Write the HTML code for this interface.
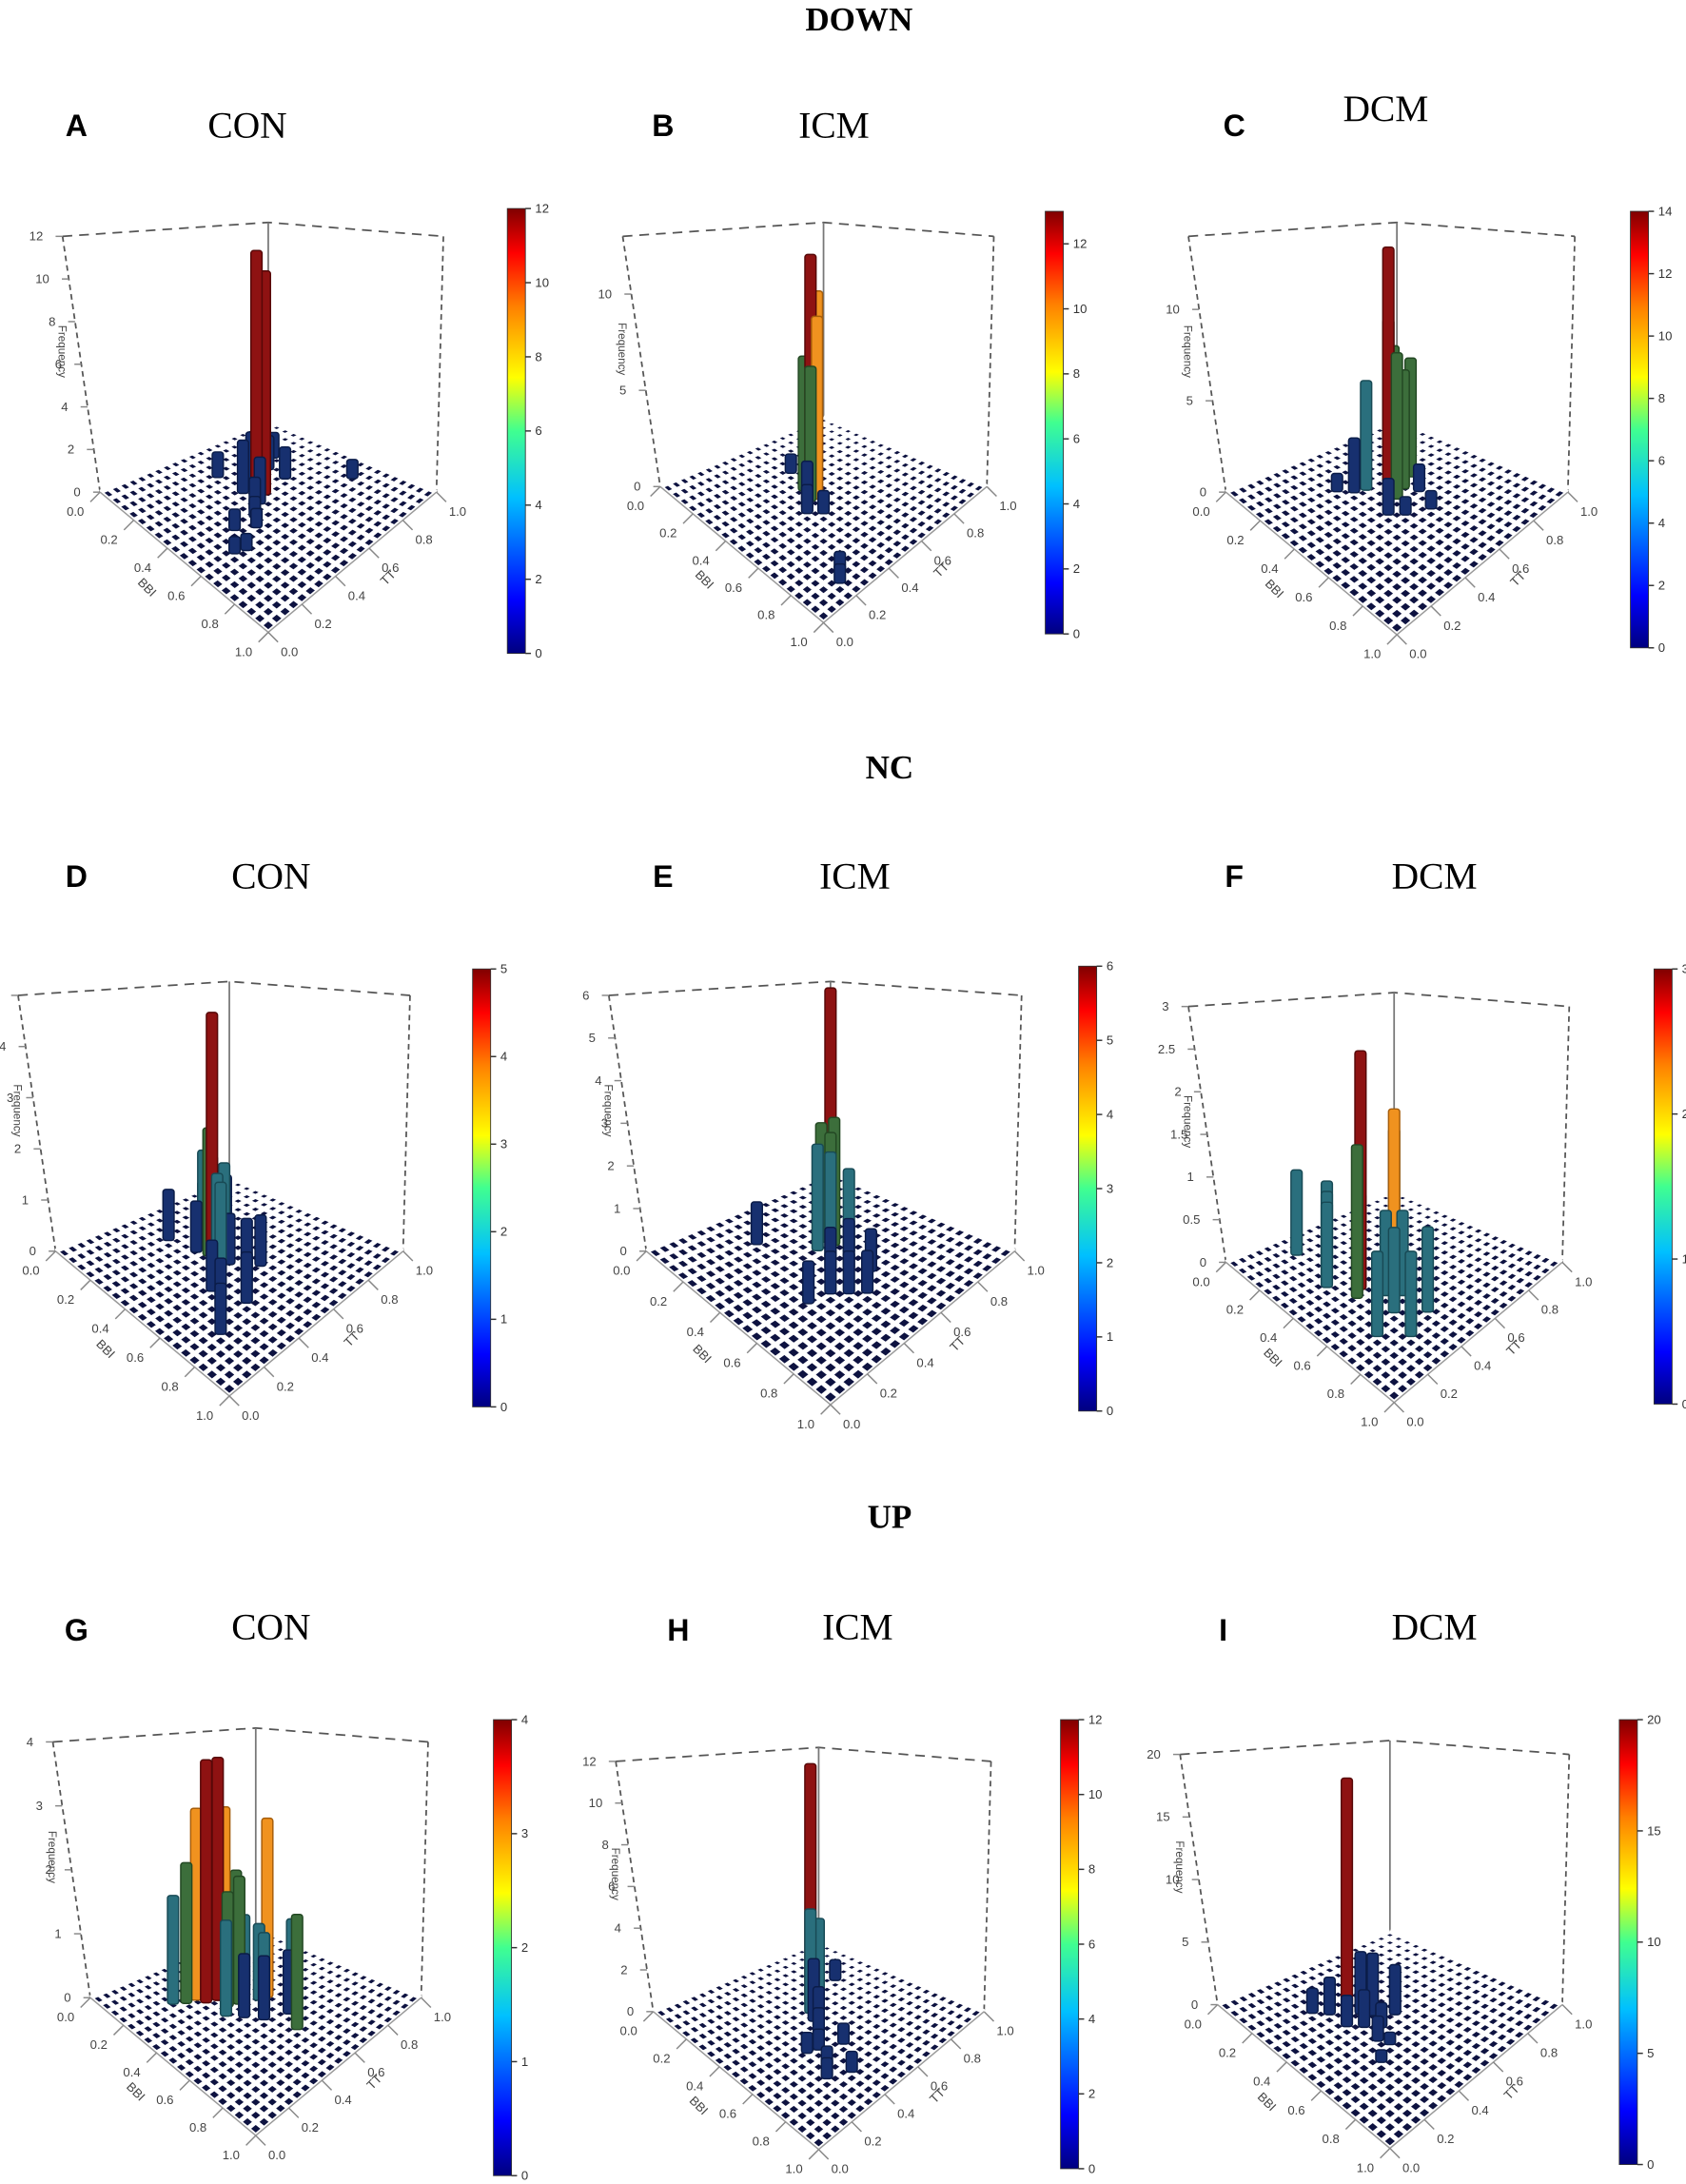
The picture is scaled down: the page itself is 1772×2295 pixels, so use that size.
<!DOCTYPE html>
<html><head><meta charset="utf-8">
<style>
html,body{margin:0;padding:0;background:#fff;}
svg{display:block;}
</style></head>
<body>
<svg id="fig" xmlns="http://www.w3.org/2000/svg" width="1772" height="2295" viewBox="0 0 1213 1571">
<defs>
<linearGradient id="jet" x1="0" y1="1" x2="0" y2="0">
<stop offset="0" stop-color="#00007f"/><stop offset="0.12" stop-color="#0000ff"/>
<stop offset="0.35" stop-color="#00c0ff"/><stop offset="0.5" stop-color="#40ff90"/>
<stop offset="0.62" stop-color="#ffff00"/><stop offset="0.78" stop-color="#ff8000"/>
<stop offset="0.9" stop-color="#ff0000"/><stop offset="1" stop-color="#800000"/>
</linearGradient>
</defs>
<g font-family="Liberation Serif, serif" font-weight="bold" font-size="24" fill="#000" text-anchor="middle">
<text x="618" y="22">DOWN</text>
<text x="640" y="560">NC</text>
<text x="640" y="1099">UP</text>
</g>
<g id="panels"></g>
</svg>
<script>
// ---- data (BBI position, TT position, frequency) per panel ----
const A_bbi=[0.41,0.42,0.36,0.45,0.47,0.50,0.20,0.30,0.25,0.50,0.60,0.62,0.62,0.35,0.30,0.55,0.40];
const A_tt =[0.52,0.56,0.62,0.50,0.45,0.42,0.50,0.70,0.78,0.30,0.20,0.25,0.88,0.50,0.60,0.38,0.70];
const A_val=[11.6,10.5,6.0,2.2,1.6,1.0,1.2,1.6,1.2,1.0,0.8,0.8,0.9,2.5,2.2,0.9,1.5];
const B_bbi=[0.42,0.43,0.46,0.40,0.45,0.38,0.35,0.48,0.50,0.30,0.90,0.85,0.55,0.25];
const B_tt =[0.50,0.53,0.50,0.55,0.47,0.50,0.55,0.42,0.40,0.60,0.20,0.25,0.45,0.55];
const B_val=[12.5,10.5,9.5,8.0,7.0,7.0,2.0,2.5,1.5,1.2,1.0,1.0,1.2,1.0];
const C_bbi=[0.40,0.45,0.35,0.36,0.32,0.42,0.30,0.50,0.55,0.25,0.60,0.48,0.38];
const C_tt =[0.55,0.55,0.60,0.62,0.50,0.62,0.45,0.45,0.50,0.40,0.60,0.65,0.70];
const C_val=[13.5,8.0,9.0,7.5,6.0,6.5,3.0,2.0,1.0,1.0,1.0,1.5,6.5];
const D_bbi=[0.40,0.38,0.35,0.42,0.45,0.30,0.33,0.50,0.48,0.25,0.55,0.60,0.65,0.70,0.28,0.58,0.20,0.75];
const D_tt =[0.50,0.50,0.55,0.55,0.48,0.55,0.48,0.45,0.52,0.60,0.35,0.50,0.30,0.40,0.70,0.60,0.45,0.20];
const D_val=[4.8,2.5,1.8,1.8,1.8,1.8,1.0,1.8,1.0,1.0,1.0,1.2,1.0,1.0,1.0,1.0,1.0,1.0];
const E_bbi=[0.30,0.35,0.40,0.38,0.42,0.45,0.33,0.50,0.55,0.60,0.65,0.20,0.58,0.70,0.48,0.62];
const E_tt =[0.70,0.60,0.62,0.55,0.58,0.55,0.68,0.50,0.55,0.40,0.45,0.40,0.30,0.50,0.62,0.60];
const E_val=[5.6,2.8,3.0,2.5,2.8,2.5,1.0,1.0,1.2,1.0,1.0,1.0,1.0,1.0,2.0,1.0];
const F_bbi=[0.45,0.50,0.48,0.15,0.30,0.40,0.55,0.60,0.65,0.70,0.35,0.25,0.80,0.75,0.12];
const F_tt =[0.35,0.50,0.30,0.85,0.30,0.40,0.40,0.45,0.35,0.20,0.25,0.35,0.30,0.45,0.30];
const F_val=[2.8,2.0,1.8,1.0,1.0,1.0,1.0,1.0,1.0,1.0,1.0,1.0,1.0,1.0,1.0];
const G_bbi=[0.30,0.32,0.26,0.28,0.33,0.45,0.22,0.25,0.40,0.36,0.38,0.42,0.50,0.48,0.55,0.60,0.70,0.30,0.35,0.44,0.52];
const G_tt =[0.40,0.45,0.38,0.43,0.48,0.62,0.28,0.33,0.50,0.52,0.45,0.40,0.55,0.45,0.50,0.60,0.55,0.55,0.58,0.58,0.70];
const G_val=[3.8,3.8,3.0,3.0,3.0,2.8,1.7,2.2,2.0,2.0,1.8,1.5,1.2,1.0,1.0,1.0,1.8,1.0,1.2,1.2,1.2];
const H_bbi=[0.35,0.40,0.42,0.38,0.45,0.50,0.55,0.60,0.65,0.70,0.75,0.30,0.58,0.80];
const H_tt =[0.60,0.55,0.58,0.62,0.52,0.50,0.45,0.40,0.50,0.35,0.30,0.80,0.35,0.40];
const H_val=[11.5,5.0,4.5,3.5,3.0,2.0,1.5,1.0,1.0,1.0,1.0,1.0,1.0,1.0];
const I_bbi=[0.35,0.38,0.42,0.30,0.45,0.50,0.55,0.25,0.60,0.65,0.40,0.48];
const I_tt =[0.40,0.45,0.48,0.35,0.40,0.45,0.38,0.30,0.40,0.30,0.35,0.55];
const I_val=[19,5.0,5.0,3.0,3.0,2.0,2.0,2.0,1.0,1.0,2.5,4.0];
const zTicks={A:[0,2,4,6,8,10,12],B:[0,5,10],C:[0,5,10],D:[0,1,2,3,4,5],E:[0,1,2,3,4,5,6],F:[0,0.5,1,1.5,2,2.5,3],G:[0,1,2,3,4],H:[0,2,4,6,8,10,12],I:[0,5,10,15,20]};
const cbTicks={A:[0,2,4,6,8,10,12],B:[0,2,4,6,8,10,12],C:[0,2,4,6,8,10,12,14],D:[0,1,2,3,4,5],E:[0,1,2,3,4,5,6],F:[0,1,2,3],G:[0,1,2,3,4],H:[0,2,4,6,8,10,12],I:[0,5,10,15,20]};
const zMax={A:12,B:13,C:14,D:5,E:6,F:3,G:4,H:12,I:20};
const groupLabel={A:'CON',B:'ICM',C:'DCM',D:'CON',E:'ICM',F:'DCM',G:'CON',H:'ICM',I:'DCM'};

// ---- layout (positions only) ----
const layout={
A:{L:[72,354],W:242,zH:184,cb:[365,150,470],lt:[55,90],gt:[178,90]},
B:{L:[475,350],W:235,zH:180,cb:[752,152,456],lt:[477,90],gt:[600,90]},
C:{L:[882,354],W:246,zH:184,cb:[1173,152,466],lt:[888,90],gt:[997,78]},
D:{L:[40,900],W:250,zH:184,cb:[340,697,1012],lt:[55,630],gt:[195,630]},
E:{L:[465,900],W:265,zH:184,cb:[776,695,1015],lt:[477,630],gt:[615,630]},
F:{L:[882,908],W:242,zH:184,cb:[1190,697,1010],lt:[888,630],gt:[1032,630]},
G:{L:[65,1437],W:238,zH:184,cb:[355,1237,1565],lt:[55,1172],gt:[195,1170]},
H:{L:[470,1447],W:238,zH:180,cb:[763,1237,1560],lt:[488,1172],gt:[617,1170]},
I:{L:[876,1442],W:248,zH:180,cb:[1165,1237,1557],lt:[880,1172],gt:[1032,1170]}
};
const data={A:[A_bbi,A_tt,A_val],B:[B_bbi,B_tt,B_val],C:[C_bbi,C_tt,C_val],D:[D_bbi,D_tt,D_val],E:[E_bbi,E_tt,E_val],F:[F_bbi,F_tt,F_val],G:[G_bbi,G_tt,G_val],H:[H_bbi,H_tt,H_val],I:[I_bbi,I_tt,I_val]};

const NS='http://www.w3.org/2000/svg';
function mk(tag,attrs,parent){const e=document.createElementNS(NS,tag);for(const k in attrs)e.setAttribute(k,attrs[k]);parent.appendChild(e);return e;}
function barColor(f){
  if(f<0.3)return['#17306f','#0b1c48'];
  if(f<0.45)return['#2a6f7d','#184a55'];
  if(f<0.66)return['#3c6e3b','#234823'];
  if(f<0.86)return['#f0921f','#a65d0a'];
  return['#8e1212','#560808'];
}
const root=document.getElementById('panels');
for(const key in layout){
  const P=layout[key];
  const g=mk('g',{},root);
  
  
  const Lx=P.L[0], Ly=P.L[1], W=P.W;
  const Df=100*W/240, Db=51*W/240;
  const cL=[Lx,Ly], cB=[Lx+W/2,Ly+Df], cR=[Lx+W,Ly], cT=[Lx+W/2,Ly-Db];
  const pt=(b,t)=>[0,1].map(k=>(1-b)*(1-t)*cL[k]+b*(1-t)*cB[k]+b*t*cR[k]+(1-b)*t*cT[k]);
  const zs=v=>Ly-v/zMax[key]*P.zH;
  const T=cT, R=cR;
  const topY=Ly-P.zH;
  // back box
  const box=mk('g',{stroke:'#555','stroke-width':1.2,fill:'none'},g);
  
  
  mk('polyline',{points:`${Lx-27},${topY} ${T[0]},${topY-10} ${R[0]+5},${topY}`,'stroke-dasharray':'7,5'},box);
  mk('line',{x1:Lx-27,y1:topY,x2:Lx,y2:Ly,'stroke-dasharray':'4,3'},box);
  mk('line',{x1:R[0]+5,y1:topY,x2:R[0],y2:R[1],'stroke-dasharray':'4,3'},box);
  mk('line',{x1:T[0],y1:topY-10,x2:T[0],y2:T[1],stroke:'#777'},box);
  // floor
  const fl=mk('g',{},g);
  
  
  mk('polygon',{points:[cL,cB,cR,cT].map(p=>p.join(',')).join(' '),fill:'#0d1240'},fl);
  for(let i=0;i<=20;i++){
    const a=pt(i/20,0),b2=pt(i/20,1),c=pt(0,i/20),d=pt(1,i/20);
    mk('line',{x1:a[0],y1:a[1],x2:b2[0],y2:b2[1],stroke:'#fff','stroke-width':3.4},fl);
    mk('line',{x1:c[0],y1:c[1],x2:d[0],y2:d[1],stroke:'#fff','stroke-width':3.4},fl);
  }
  mk('polyline',{points:[cL,cB,cR].map(p=>p.join(',')).join(' '),fill:'none',stroke:'#999','stroke-width':1},fl);
  // axis ticks
  const ax=mk('g',{'font-family':'Liberation Sans, sans-serif','font-size':9,fill:'#444'},g);
  
  
  for(let i=0;i<=5;i++){
    const p=pt(i/5,0);
    mk('line',{x1:p[0],y1:p[1],x2:p[0]-7,y2:p[1]+7,stroke:'#888'},ax);
    const t=mk('text',{x:p[0]-24,y:p[1]+17},ax);t.textContent=(i/5).toFixed(1);
    const q=pt(1,i/5);
    mk('line',{x1:q[0],y1:q[1],x2:q[0]+7,y2:q[1]+7,stroke:'#888'},ax);
    const t2=mk('text',{x:q[0]+9,y:q[1]+17},ax);t2.textContent=(i/5).toFixed(1);
  }
  const bl=pt(0.55,0), tl=pt(1,0.45);
  const tb=mk('text',{x:bl[0]-40,y:bl[1]+10,transform:`rotate(45 ${bl[0]-40} ${bl[1]+10})`},ax);tb.textContent='BBI';
  const tt=mk('text',{x:tl[0]+30,y:tl[1]+12,transform:`rotate(-45 ${tl[0]+30} ${tl[1]+12})`},ax);tt.textContent='TT';
  zTicks[key].forEach(v=>{
    const y=zs(v);
    const xx=Lx-27*(Ly-y)/P.zH;
    mk('line',{x1:xx,y1:y,x2:xx-5,y2:y,stroke:'#888'},ax);
    const t=mk('text',{x:xx-14,y:y+3,'text-anchor':'end'},ax);t.textContent=String(v);
  });
  const fx=Lx-30, fy=Ly-P.zH*0.55;
  const ft=mk('text',{x:fx,y:fy,transform:`rotate(90 ${fx} ${fy})`,'text-anchor':'middle','font-size':8},ax);ft.textContent='Frequency';
  // bars
  const [bb,ttv,vv]=data[key];
  const idx=bb.map((_,i)=>i).sort((i,j)=>pt(bb[i],ttv[i])[1]-pt(bb[j],ttv[j])[1]);
  const bars=mk('g',{},g);
  
  
  idx.forEach(i=>{
    const p=pt(bb[i],ttv[i]);
    const top=p[1]-vv[i]/zMax[key]*P.zH;
    const [c,s]=barColor(vv[i]/zMax[key]);
    const r=mk('rect',{x:p[0]-4,y:top,width:8,height:p[1]-top,fill:c,stroke:s,'stroke-width':1,rx:2},bars);
    
    
  });
  // colorbar
  const [cx,cy0,cy1]=P.cb;
  const cb=mk('g',{},g);
  
  
  mk('rect',{x:cx,y:cy0,width:13,height:cy1-cy0,fill:'url(#jet)',stroke:'#333','stroke-width':0.6},cb);
  const cmax=zMax[key]===13?13:cbTicks[key][cbTicks[key].length-1];
  cbTicks[key].forEach(v=>{
    const y=cy1-v/cmax*(cy1-cy0);
    mk('line',{x1:cx+13,y1:y,x2:cx+17,y2:y,stroke:'#333'},cb);
    const t=mk('text',{x:cx+20,y:y+3,'font-family':'Liberation Sans, sans-serif','font-size':9,fill:'#333'},cb);
    t.textContent=String(v);
  });
  // labels
  const lt=mk('text',{x:P.lt[0],y:P.lt[1]+8,'font-family':'Liberation Sans, sans-serif','font-weight':'bold','font-size':22,'text-anchor':'middle'},g);
  lt.textContent=key;
  
  
  const gt=mk('text',{x:P.gt[0],y:P.gt[1]+9,'font-family':'Liberation Serif, serif','font-size':27,'text-anchor':'middle'},g);
  gt.textContent=groupLabel[key];
  
  
}
</script>
</body></html>
